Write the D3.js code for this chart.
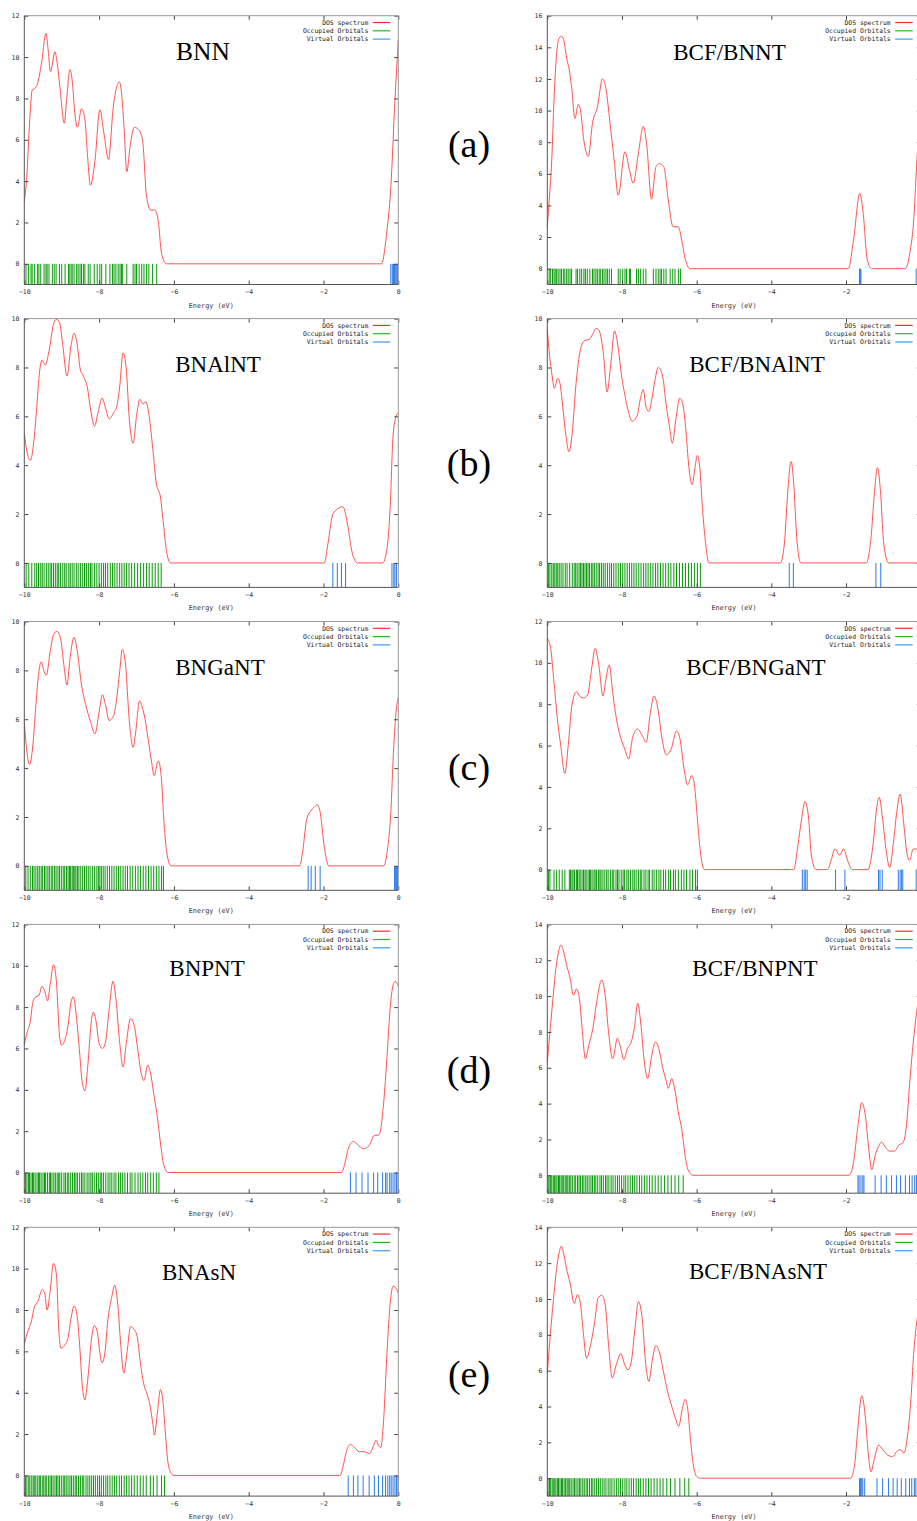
<!DOCTYPE html>
<html><head><meta charset="utf-8">
<script src="https://cdn.jsdelivr.net/npm/d3@7"></script>
<style>body{margin:0;background:#fff;} svg{display:block;background:#fff}</style>
</head><body>
<svg id="c" width="917" height="1521"></svg>
<script>
// ---------------- DATA ----------------
const xTicks = [-10, -8, -6, -4, -2, 0];
const rowLabels = ["(a)", "(b)", "(c)", "(d)", "(e)"];
const legendLabels = ["DOS spectrum", "Occupied Orbitals", "Virtual Orbitals"];
const xLabel = "Energy (eV)";

// (a) BNN
const dos_BNN = [[-10,3.0],[-9.94,4.06],[-9.85,7.1],[-9.79,8.4],[-9.71,8.5],[-9.65,8.7],[-9.54,9.7],[-9.42,11.15],[-9.36,10.3],[-9.30,9.3],[-9.18,10.25],[-9.12,9.7],[-9.05,8.6],[-8.93,6.8],[-8.87,7.9],[-8.78,9.4],[-8.71,8.7],[-8.65,7.3],[-8.58,6.6],[-8.47,7.5],[-8.38,7.0],[-8.32,5.5],[-8.23,3.8],[-8.11,5.0],[-7.98,7.45],[-7.87,6.3],[-7.75,5.05],[-7.62,7.6],[-7.46,8.8],[-7.40,8.25],[-7.33,6.5],[-7.26,4.45],[-7.17,5.7],[-7.06,6.6],[-6.95,6.5],[-6.84,6.0],[-6.73,3.25],[-6.62,2.6],[-6.51,2.6],[-6.42,2.1],[-6.33,0.5],[-6.2,0],[-0.45,0],[-0.31,1.5],[-0.2,3.7],[-0.09,7.9],[0,10.85]];
const occ_BNN = [-9.955,-9.89,-9.82,-9.79,-9.73,-9.65,-9.61,-9.56,-9.47,-9.42,-9.39,-9.34,-9.25,-9.20,-9.15,-9.06,-9.00,-8.91,-8.82,-8.80,-8.75,-8.72,-8.67,-8.60,-8.56,-8.51,-8.47,-8.42,-8.38,-8.29,-8.24,-8.13,-8.05,-7.98,-7.93,-7.82,-7.71,-7.64,-7.60,-7.55,-7.49,-7.44,-7.40,-7.37,-7.26,-7.09,-7.04,-7.00,-6.93,-6.86,-6.80,-6.73,-6.67,-6.57,-6.46];
const virt_BNN = [-0.2,-0.16,-0.13,-0.1,-0.07,-0.04,-0.02];

// (a) BCF/BNNT
const dos_BCF_BNNT = [[-10,2.65],[-9.95,4.3],[-9.88,6.9],[-9.82,10.7],[-9.75,13.6],[-9.68,14.6],[-9.62,14.7],[-9.55,14.35],[-9.48,13.3],[-9.41,12.55],[-9.35,11.5],[-9.26,9.5],[-9.17,10.4],[-9.11,10.0],[-9.02,8.1],[-8.90,7.1],[-8.79,9.2],[-8.66,10.2],[-8.52,12.0],[-8.43,11.4],[-8.32,9.2],[-8.21,6.9],[-8.10,4.65],[-7.92,7.4],[-7.80,6.25],[-7.70,5.4],[-7.56,7.3],[-7.43,9.0],[-7.34,7.9],[-7.21,4.4],[-7.09,6.45],[-7.0,6.65],[-6.88,6.45],[-6.76,4.35],[-6.63,2.65],[-6.49,2.65],[-6.40,1.8],[-6.31,0.65],[-6.18,0],[-1.94,0],[-1.80,1.8],[-1.63,4.76],[-1.54,3.5],[-1.43,0.55],[-1.31,0],[-0.42,0],[-0.29,1.0],[-0.18,3.3],[-0.1,6.9],[-0.05,8.5],[0,9.5]];
const occ_BCF_BNNT = [-9.95,-9.91,-9.86,-9.82,-9.79,-9.75,-9.71,-9.66,-9.62,-9.57,-9.53,-9.48,-9.44,-9.39,-9.35,-9.23,-9.19,-9.13,-9.08,-9.02,-8.98,-8.93,-8.86,-8.79,-8.75,-8.70,-8.66,-8.61,-8.57,-8.52,-8.48,-8.43,-8.39,-8.34,-8.28,-8.10,-8.05,-7.98,-7.92,-7.88,-7.80,-7.77,-7.61,-7.56,-7.50,-7.43,-7.36,-7.16,-7.09,-7.03,-6.98,-6.94,-6.88,-6.82,-6.71,-6.64,-6.58,-6.49,-6.43];
const virt_BCF_BNNT = [-1.64,-1.62,-1.60,-0.12,-0.08,-0.04];

// (b) BNAlNT
const dos_BNAlNT = [[-10,5.3],[-9.92,4.5],[-9.84,4.2],[-9.75,4.9],[-9.67,6.3],[-9.59,7.85],[-9.53,8.3],[-9.44,8.1],[-9.33,8.75],[-9.22,9.77],[-9.14,9.97],[-9.06,9.85],[-8.97,8.9],[-8.86,7.65],[-8.75,8.9],[-8.67,9.4],[-8.59,9.0],[-8.5,7.9],[-8.42,7.65],[-8.31,7.15],[-8.23,6.3],[-8.12,5.6],[-8.03,6.15],[-7.92,6.75],[-7.84,6.4],[-7.73,5.9],[-7.61,6.15],[-7.53,6.4],[-7.45,7.2],[-7.36,8.6],[-7.28,8.05],[-7.19,5.85],[-7.09,4.9],[-7.0,6.0],[-6.91,6.7],[-6.83,6.5],[-6.75,6.6],[-6.66,6.0],[-6.56,4.6],[-6.47,3.25],[-6.36,2.7],[-6.28,1.6],[-6.2,0.5],[-6.09,0],[-1.98,0],[-1.88,0.8],[-1.75,2.0],[-1.63,2.2],[-1.48,2.3],[-1.36,1.6],[-1.23,0.4],[-1.09,0],[-0.42,0],[-0.31,0.5],[-0.22,2.2],[-0.14,5.2],[-0.06,6.0],[0,6.15]];
const occ_BNAlNT = [-9.95,-9.88,-9.80,-9.72,-9.67,-9.62,-9.56,-9.52,-9.47,-9.41,-9.36,-9.31,-9.27,-9.22,-9.17,-9.12,-9.08,-9.03,-8.97,-8.92,-8.88,-8.81,-8.77,-8.72,-8.67,-8.61,-8.56,-8.50,-8.45,-8.39,-8.34,-8.28,-8.23,-8.19,-8.12,-8.06,-8.00,-7.94,-7.88,-7.83,-7.77,-7.70,-7.64,-7.58,-7.52,-7.45,-7.39,-7.33,-7.27,-7.20,-7.13,-7.05,-6.97,-6.89,-6.81,-6.73,-6.66,-6.58,-6.50,-6.42,-6.34];
const virt_BNAlNT = [-1.75,-1.63,-1.52,-1.41,-0.17,-0.12,-0.09,-0.05];

// (b) BCF/BNAlNT
const dos_BCF_BNAlNT = [[-10,9.56],[-9.94,8.5],[-9.87,7.65],[-9.81,7.15],[-9.72,7.55],[-9.66,7.35],[-9.58,6.3],[-9.5,5.2],[-9.42,4.55],[-9.34,5.2],[-9.23,7.35],[-9.11,8.75],[-9.0,9.1],[-8.87,9.15],[-8.79,9.35],[-8.69,9.6],[-8.61,9.5],[-8.5,8.6],[-8.4,7.0],[-8.29,8.3],[-8.2,9.5],[-8.12,9.0],[-8.01,7.65],[-7.9,6.7],[-7.82,6.15],[-7.73,5.8],[-7.59,6.05],[-7.51,6.7],[-7.43,7.1],[-7.36,6.4],[-7.28,6.2],[-7.2,6.7],[-7.12,7.45],[-7.03,8.0],[-6.92,7.7],[-6.81,6.4],[-6.73,5.6],[-6.65,4.9],[-6.56,5.85],[-6.45,6.75],[-6.37,6.5],[-6.29,5.45],[-6.21,3.95],[-6.12,3.2],[-6.04,3.95],[-5.98,4.4],[-5.92,3.95],[-5.84,2.15],[-5.76,0.8],[-5.67,0],[-3.76,0],[-3.65,0.8],[-3.57,2.7],[-3.47,4.15],[-3.4,3.25],[-3.32,1.05],[-3.21,0],[-1.46,0],[-1.33,1.05],[-1.24,2.85],[-1.16,3.9],[-1.08,3.0],[-0.99,0.8],[-0.86,0],[0,0]];
const occ_BCF_BNAlNT = [-9.97,-9.93,-9.88,-9.84,-9.80,-9.76,-9.72,-9.68,-9.63,-9.58,-9.52,-9.47,-9.40,-9.33,-9.28,-9.24,-9.20,-9.15,-9.11,-9.07,-9.03,-8.99,-8.95,-8.91,-8.87,-8.82,-8.78,-8.74,-8.69,-8.64,-8.60,-8.55,-8.50,-8.45,-8.39,-8.33,-8.28,-8.22,-8.16,-8.10,-8.04,-7.98,-7.92,-7.86,-7.80,-7.74,-7.68,-7.62,-7.55,-7.49,-7.42,-7.36,-7.30,-7.23,-7.17,-7.10,-7.04,-6.97,-6.90,-6.83,-6.76,-6.69,-6.61,-6.54,-6.46,-6.38,-6.30,-6.22,-6.14,-6.06,-5.98,-5.90];
const virt_BCF_BNAlNT = [-3.52,-3.41,-1.20,-1.07];

// (c) BNGaNT
const dos_BNGaNT = [[-10,5.9],[-9.94,4.8],[-9.86,4.15],[-9.77,4.95],[-9.69,6.6],[-9.61,7.95],[-9.55,8.35],[-9.47,7.95],[-9.41,7.8],[-9.31,8.75],[-9.22,9.45],[-9.13,9.6],[-9.03,9.3],[-8.94,8.2],[-8.86,7.4],[-8.77,8.6],[-8.67,9.35],[-8.58,8.75],[-8.47,7.4],[-8.36,6.6],[-8.23,5.9],[-8.11,5.4],[-8.0,6.3],[-7.91,7.0],[-7.83,6.6],[-7.73,5.95],[-7.61,6.15],[-7.53,6.85],[-7.45,7.95],[-7.38,8.85],[-7.3,8.35],[-7.19,5.9],[-7.09,4.85],[-7.02,5.5],[-6.92,6.75],[-6.84,6.45],[-6.77,6.0],[-6.69,5.2],[-6.61,4.4],[-6.53,3.7],[-6.42,4.3],[-6.34,3.7],[-6.27,1.9],[-6.19,0.55],[-6.08,0],[-2.64,0],[-2.56,0.55],[-2.45,1.9],[-2.34,2.25],[-2.25,2.4],[-2.17,2.5],[-2.09,2.2],[-1.98,0.8],[-1.86,0],[-0.39,0],[-0.3,0.55],[-0.2,2.2],[-0.13,4.65],[-0.05,6.45],[0,6.9]];
const occ_BNGaNT = [-9.96,-9.90,-9.84,-9.78,-9.74,-9.69,-9.64,-9.60,-9.55,-9.51,-9.46,-9.42,-9.37,-9.33,-9.28,-9.24,-9.19,-9.15,-9.10,-9.06,-9.01,-8.96,-8.92,-8.87,-8.83,-8.79,-8.76,-8.72,-8.69,-8.65,-8.62,-8.58,-8.54,-8.49,-8.44,-8.39,-8.34,-8.29,-8.24,-8.18,-8.12,-8.06,-8.02,-7.98,-7.94,-7.89,-7.84,-7.78,-7.72,-7.66,-7.60,-7.54,-7.48,-7.42,-7.36,-7.30,-7.24,-7.17,-7.10,-7.03,-6.96,-6.89,-6.82,-6.75,-6.68,-6.61,-6.54,-6.47,-6.40,-6.33,-6.28];
const virt_BNGaNT = [-2.41,-2.33,-2.22,-2.09,-0.1,-0.07,-0.05,-0.02];

// (c) BCF/BNGaNT
const dos_BCF_BNGaNT = [[-10,11.2],[-9.91,10.7],[-9.83,9.25],[-9.73,7.3],[-9.64,6.0],[-9.53,4.65],[-9.44,6.0],[-9.34,7.95],[-9.22,8.6],[-9.11,8.35],[-9.03,8.3],[-8.92,8.45],[-8.81,9.75],[-8.72,10.7],[-8.62,9.9],[-8.51,8.4],[-8.44,9.1],[-8.34,9.9],[-8.25,8.6],[-8.15,7.3],[-8.03,6.35],[-7.93,5.85],[-7.82,5.35],[-7.72,6.35],[-7.59,6.8],[-7.46,6.5],[-7.35,6.15],[-7.25,7.45],[-7.14,8.4],[-7.04,7.8],[-6.93,6.35],[-6.81,5.55],[-6.68,5.85],[-6.54,6.7],[-6.45,6.35],[-6.34,4.9],[-6.24,4.1],[-6.13,4.55],[-6.06,4.1],[-5.98,2.45],[-5.9,0.85],[-5.79,0],[-3.4,0],[-3.29,1.15],[-3.19,2.45],[-3.1,3.3],[-3.0,2.45],[-2.93,0.7],[-2.8,0],[-2.5,0],[-2.39,0.5],[-2.3,1.0],[-2.17,0.7],[-2.06,1.0],[-1.97,0.5],[-1.83,0],[-1.41,0],[-1.28,1.15],[-1.17,3.1],[-1.11,3.5],[-1.02,2.45],[-0.92,0.85],[-0.83,0.1],[-0.74,1.15],[-0.64,2.8],[-0.55,3.65],[-0.45,2.15],[-0.36,0.7],[-0.3,0.45],[-0.2,1.0],[-0.11,1.0],[-0.05,0.8],[0,0.6]];
const occ_BCF_BNGaNT = [-9.97,-9.93,-9.82,-9.75,-9.68,-9.60,-9.53,-9.41,-9.38,-9.34,-9.31,-9.27,-9.22,-9.19,-9.15,-9.12,-9.07,-9.03,-8.99,-8.96,-8.91,-8.87,-8.84,-8.80,-8.75,-8.72,-8.68,-8.63,-8.59,-8.56,-8.51,-8.46,-8.41,-8.37,-8.31,-8.26,-8.22,-8.16,-8.12,-8.08,-8.02,-7.97,-7.93,-7.87,-7.83,-7.77,-7.71,-7.67,-7.62,-7.56,-7.51,-7.47,-7.41,-7.36,-7.30,-7.26,-7.19,-7.14,-7.08,-7.01,-6.96,-6.89,-6.83,-6.75,-6.70,-6.62,-6.57,-6.49,-6.41,-6.34,-6.27,-6.18,-6.11,-6.03,-5.98];
const virt_BCF_BNGaNT = [-3.17,-3.12,-3.08,-3.04,-2.28,-2.03,-1.13,-1.09,-1.03,-0.60,-0.55,-0.51,-0.48,-0.12];

// (d) BNPNT
const dos_BNPNT = [[-10,6.2],[-9.92,6.8],[-9.84,7.3],[-9.77,8.25],[-9.69,8.5],[-9.61,8.55],[-9.53,9.0],[-9.45,8.75],[-9.38,8.3],[-9.3,9.2],[-9.22,10.05],[-9.14,9.2],[-9.06,6.65],[-9.0,6.15],[-8.91,6.45],[-8.83,7.1],[-8.75,8.25],[-8.69,8.5],[-8.61,7.6],[-8.53,6.0],[-8.45,4.35],[-8.38,3.95],[-8.3,5.2],[-8.22,7.1],[-8.16,7.75],[-8.08,7.3],[-8.0,6.25],[-7.91,6.0],[-7.83,6.3],[-7.73,7.9],[-7.63,9.25],[-7.55,8.4],[-7.45,6.3],[-7.36,5.1],[-7.27,6.3],[-7.16,7.45],[-7.06,7.1],[-6.97,6.0],[-6.88,4.85],[-6.8,4.45],[-6.7,5.2],[-6.63,4.85],[-6.53,3.7],[-6.44,2.65],[-6.34,1.15],[-6.27,0.35],[-6.16,0],[-1.52,0],[-1.42,0.5],[-1.34,1.15],[-1.2,1.5],[-1.08,1.35],[-0.94,1.15],[-0.78,1.3],[-0.64,1.8],[-0.53,1.8],[-0.47,2.1],[-0.39,3.4],[-0.3,5.65],[-0.22,7.9],[-0.14,9.05],[-0.08,9.25],[0,9.0]];
const occ_BNPNT = [-9.97,-9.93,-9.89,-9.86,-9.82,-9.78,-9.75,-9.71,-9.66,-9.62,-9.59,-9.55,-9.50,-9.46,-9.43,-9.38,-9.33,-9.30,-9.26,-9.21,-9.17,-9.12,-9.08,-9.05,-9.00,-8.94,-8.90,-8.85,-8.81,-8.76,-8.71,-8.66,-8.62,-8.58,-8.52,-8.47,-8.43,-8.38,-8.32,-8.27,-8.22,-8.18,-8.13,-8.07,-8.02,-7.97,-7.93,-7.88,-7.82,-7.76,-7.71,-7.66,-7.60,-7.55,-7.48,-7.43,-7.37,-7.31,-7.24,-7.17,-7.12,-7.04,-6.96,-6.90,-6.83,-6.76,-6.70,-6.62,-6.55,-6.47,-6.40];
const virt_BNPNT = [-1.28,-1.13,-0.97,-0.81,-0.66,-0.55,-0.42,-0.34,-0.30,-0.23,-0.19,-0.14,-0.09,-0.05,-0.01];

// (d) BCF/BNPNT
const dos_BCF_BNPNT = [[-10,6.3],[-9.92,8.2],[-9.84,10.05],[-9.77,11.55],[-9.7,12.45],[-9.64,12.85],[-9.56,12.45],[-9.48,11.7],[-9.39,11.0],[-9.3,10.05],[-9.22,10.4],[-9.14,9.85],[-9.06,8.0],[-8.98,6.5],[-8.89,7.25],[-8.78,8.2],[-8.69,9.5],[-8.54,10.9],[-8.45,10.05],[-8.36,8.0],[-8.25,6.5],[-8.12,7.65],[-8.03,7.05],[-7.95,6.45],[-7.86,7.05],[-7.75,7.45],[-7.67,8.2],[-7.58,9.6],[-7.5,8.55],[-7.4,6.3],[-7.31,5.4],[-7.22,6.5],[-7.1,7.45],[-7.01,7.05],[-6.92,6.1],[-6.82,5.3],[-6.76,4.85],[-6.67,5.4],[-6.57,4.6],[-6.49,3.5],[-6.4,2.6],[-6.31,1.1],[-6.23,0.3],[-6.1,0],[-1.92,0],[-1.8,0.7],[-1.69,2.6],[-1.58,4.05],[-1.48,3.3],[-1.39,1.45],[-1.31,0.3],[-1.22,1.1],[-1.12,1.65],[-1.05,1.85],[-0.94,1.55],[-0.83,1.35],[-0.7,1.35],[-0.58,1.7],[-0.48,1.8],[-0.39,2.6],[-0.28,5.55],[-0.2,7.4],[-0.11,9.1],[-0.05,10.0],[0,10.5]];
const occ_BCF_BNPNT = [-9.98,-9.95,-9.91,-9.88,-9.84,-9.81,-9.77,-9.74,-9.70,-9.67,-9.63,-9.60,-9.56,-9.52,-9.48,-9.45,-9.41,-9.37,-9.33,-9.28,-9.24,-9.19,-9.15,-9.11,-9.06,-9.02,-8.97,-8.93,-8.88,-8.83,-8.79,-8.74,-8.70,-8.65,-8.59,-8.55,-8.50,-8.44,-8.40,-8.35,-8.29,-8.24,-8.18,-8.12,-8.07,-8.01,-7.95,-7.90,-7.84,-7.78,-7.72,-7.66,-7.60,-7.53,-7.47,-7.40,-7.33,-7.26,-7.19,-7.11,-7.03,-6.95,-6.86,-6.77,-6.68,-6.58,-6.48,-6.36];
const virt_BCF_BNPNT = [-1.68,-1.65,-1.60,-1.55,-1.52,-1.22,-1.06,-0.92,-0.78,-0.65,-0.54,-0.41,-0.30,-0.23,-0.16,-0.11];

// (e) BNAsN
const dos_BNAsN = [[-10,6.35],[-9.91,6.95],[-9.81,7.45],[-9.73,8.15],[-9.64,8.4],[-9.56,8.85],[-9.52,9.0],[-9.45,8.75],[-9.39,8.0],[-9.31,8.9],[-9.22,10.25],[-9.14,9.7],[-9.08,7.1],[-9.02,6.15],[-8.92,6.3],[-8.83,6.65],[-8.75,7.6],[-8.67,8.2],[-8.59,7.75],[-8.52,6.3],[-8.45,4.35],[-8.38,3.65],[-8.3,4.7],[-8.2,6.65],[-8.13,7.25],[-8.05,6.95],[-7.97,5.8],[-7.92,5.45],[-7.84,6.0],[-7.77,7.45],[-7.67,8.55],[-7.58,9.2],[-7.5,8.25],[-7.42,6.3],[-7.34,4.95],[-7.25,6.0],[-7.16,7.2],[-7.06,7.05],[-6.98,6.7],[-6.91,5.65],[-6.81,4.45],[-6.72,3.95],[-6.64,3.4],[-6.56,2.45],[-6.52,1.95],[-6.44,3.05],[-6.36,4.15],[-6.3,3.7],[-6.23,2.1],[-6.17,0.8],[-6.09,0.15],[-6.0,0],[-1.56,0],[-1.47,0.5],[-1.39,1.15],[-1.28,1.5],[-1.17,1.35],[-1.05,1.15],[-0.91,1.15],[-0.77,1.05],[-0.66,1.45],[-0.6,1.7],[-0.53,1.45],[-0.47,1.35],[-0.39,2.75],[-0.31,5.65],[-0.22,8.25],[-0.14,9.15],[-0.06,9.05],[0,8.8]];
const occ_BNAsN = [-9.97,-9.93,-9.88,-9.85,-9.80,-9.76,-9.72,-9.69,-9.64,-9.60,-9.57,-9.52,-9.48,-9.44,-9.40,-9.35,-9.31,-9.27,-9.23,-9.18,-9.14,-9.10,-9.06,-9.01,-8.96,-8.92,-8.88,-8.83,-8.78,-8.74,-8.69,-8.64,-8.60,-8.55,-8.50,-8.45,-8.41,-8.35,-8.30,-8.25,-8.20,-8.15,-8.10,-8.04,-7.99,-7.94,-7.88,-7.82,-7.77,-7.71,-7.65,-7.59,-7.53,-7.46,-7.40,-7.33,-7.27,-7.20,-7.13,-7.06,-6.98,-6.90,-6.82,-6.74,-6.63,-6.55,-6.45,-6.33,-6.25];
const virt_BNAsN = [-1.34,-1.20,-1.08,-0.94,-0.78,-0.64,-0.53,-0.42,-0.34,-0.28,-0.23,-0.19,-0.14,-0.09,-0.05,-0.01];

// (e) BCF/BNAsNT
const dos_BCF_BNAsNT = [[-10,5.85],[-9.92,8.0],[-9.84,9.85],[-9.77,11.35],[-9.7,12.4],[-9.62,12.95],[-9.55,12.4],[-9.47,11.55],[-9.39,10.9],[-9.28,9.75],[-9.19,10.25],[-9.11,9.7],[-9.03,8.0],[-8.95,6.7],[-8.84,7.45],[-8.73,8.75],[-8.64,10.05],[-8.54,10.2],[-8.45,9.7],[-8.36,7.45],[-8.26,5.6],[-8.15,6.35],[-8.03,6.95],[-7.93,6.35],[-7.84,6.05],[-7.75,6.5],[-7.65,8.4],[-7.56,9.85],[-7.46,8.95],[-7.37,6.5],[-7.28,5.4],[-7.18,6.7],[-7.09,7.4],[-7.0,7.05],[-6.89,5.95],[-6.78,4.85],[-6.68,4.1],[-6.57,3.35],[-6.48,2.9],[-6.38,3.9],[-6.31,4.4],[-6.23,3.7],[-6.17,2.25],[-6.09,0.75],[-6.0,0.1],[-5.9,0],[-1.88,0],[-1.77,0.75],[-1.69,2.6],[-1.58,4.6],[-1.48,3.35],[-1.41,1.5],[-1.33,0.35],[-1.24,1.1],[-1.13,1.85],[-1.02,1.6],[-0.89,1.3],[-0.75,1.2],[-0.64,1.5],[-0.55,1.6],[-0.45,1.4],[-0.36,2.25],[-0.26,4.45],[-0.19,6.9],[-0.11,8.65],[-0.05,9.5],[0,10.0]];
const occ_BCF_BNAsNT = [-9.98,-9.94,-9.91,-9.87,-9.84,-9.80,-9.77,-9.73,-9.70,-9.66,-9.62,-9.59,-9.55,-9.51,-9.47,-9.44,-9.40,-9.36,-9.31,-9.27,-9.23,-9.18,-9.14,-9.10,-9.05,-9.01,-8.96,-8.92,-8.87,-8.82,-8.78,-8.73,-8.68,-8.63,-8.58,-8.53,-8.48,-8.43,-8.37,-8.32,-8.27,-8.21,-8.15,-8.10,-8.04,-7.98,-7.92,-7.87,-7.81,-7.75,-7.69,-7.62,-7.56,-7.50,-7.43,-7.36,-7.29,-7.22,-7.14,-7.06,-6.98,-6.90,-6.80,-6.70,-6.58,-6.45,-6.32,-6.21];
const virt_BCF_BNAsNT = [-1.64,-1.61,-1.58,-1.55,-1.50,-1.17,-1.02,-0.86,-0.74,-0.63,-0.52,-0.40,-0.30,-0.24,-0.17,-0.13];

const titles = ["BNN","BCF/BNNT","BNAlNT","BCF/BNAlNT","BNGaNT","BCF/BNGaNT","BNPNT","BCF/BNPNT","BNAsN","BCF/BNAsNT"];
const yMaxes = [12,16,10,10,10,12,12,14,12,14];
const dosSets = [dos_BNN,dos_BCF_BNNT,dos_BNAlNT,dos_BCF_BNAlNT,dos_BNGaNT,dos_BCF_BNGaNT,dos_BNPNT,dos_BCF_BNPNT,dos_BNAsN,dos_BCF_BNAsNT];
const occSets = [occ_BNN,occ_BCF_BNNT,occ_BNAlNT,occ_BCF_BNAlNT,occ_BNGaNT,occ_BCF_BNGaNT,occ_BNPNT,occ_BCF_BNPNT,occ_BNAsN,occ_BCF_BNAsNT];
const virtSets = [virt_BNN,virt_BCF_BNNT,virt_BNAlNT,virt_BCF_BNAlNT,virt_BNGaNT,virt_BCF_BNGaNT,virt_BNPNT,virt_BCF_BNPNT,virt_BNAsN,virt_BCF_BNAsNT];

// ---------------- LAYOUT ----------------
const W = 917;
const SIDE = [{x0:24.3, x1:398.3}, {x0:547.3, x1:920.7}];
const TOP0 = 15.7, ROWH = 302.9, PH = 268.8;
const titleLayout = [
  {cx:203, dy:44, fs:25.5}, {cx:729.5, dy:44, fs:23},
  {cx:218, dy:53, fs:23}, {cx:757, dy:53, fs:23},
  {cx:220, dy:53, fs:23}, {cx:756, dy:53, fs:23},
  {cx:207, dy:52, fs:23}, {cx:755, dy:52, fs:23},
  {cx:199, dy:52.5, fs:23}, {cx:758, dy:52, fs:23}
];
const rowLabelY = [157, 476, 780, 1083, 1387];
const tickFont = "'DejaVu Sans Mono', monospace";
const serif = "'Liberation Serif','Times New Roman',serif";

const svg = d3.select("#c");

titles.forEach((t, i) => {
  const row = Math.floor(i / 2), side = i % 2;
  const top = TOP0 + row * ROWH, bot = top + PH;
  const x = d3.scaleLinear().domain([-10, 0]).range([SIDE[side].x0, SIDE[side].x1]);
  const y = d3.scaleLinear().domain([-1, yMaxes[i]]).range([bot, top]);
  const yTicks = d3.range(0, yMaxes[i] + 0.001, 2);
  const g = svg.append("g");

  // occupied orbitals
  g.append("g").selectAll("line").data(occSets[i]).join("line")
    .attr("x1", d => x(d)).attr("x2", d => x(d))
    .attr("y1", y(0)).attr("y2", y(-1))
    .attr("stroke", "#0a9a0a").attr("stroke-width", 1);
  // virtual orbitals
  g.append("g").selectAll("line").data(virtSets[i]).join("line")
    .attr("x1", d => x(d)).attr("x2", d => x(d))
    .attr("y1", y(0)).attr("y2", y(-1))
    .attr("stroke", "#2a7ae8").attr("stroke-width", 1);
  // DOS curve
  g.append("path").datum(dosSets[i])
    .attr("d", d3.line().x(d => x(d[0])).y(d => y(d[1])).curve(d3.curveMonotoneX))
    .attr("fill", "none").attr("stroke", "#ff4040").attr("stroke-width", 0.9);

  // axes (inward ticks, gnuplot style)
  const styleAxis = sel => {
    sel.select(".domain").remove();
    sel.selectAll(".tick line").attr("stroke", "#444");
    sel.selectAll(".tick text").attr("font-family", tickFont).attr("font-size", 6.5).attr("fill", "#333");
  };
  const xAxisG = g.append("g").attr("transform", `translate(0,${bot})`)
    .call(d3.axisBottom(x).tickValues(xTicks).tickSize(-4).tickPadding(5).tickFormat(d3.format("d")))
    .call(styleAxis);
  // the reference picture is cropped at its right edge: drop labels that fall outside it
  xAxisG.selectAll(".tick").filter(d => x(d) > W - 4).select("text").remove();
  g.append("g").attr("transform", `translate(0,${top})`)
    .call(d3.axisTop(x).tickValues(xTicks).tickSize(-4).tickFormat(""))
    .call(styleAxis);
  g.append("g").attr("transform", `translate(${SIDE[side].x0},0)`)
    .call(d3.axisLeft(y).tickValues(yTicks).tickSize(-4).tickPadding(5).tickFormat(d3.format("d")))
    .call(styleAxis);
  g.append("g").attr("transform", `translate(${SIDE[side].x1},0)`)
    .call(d3.axisRight(y).tickValues(yTicks).tickSize(-4).tickFormat(""))
    .call(styleAxis);

  // frame
  const x0 = SIDE[side].x0, x1 = SIDE[side].x1;
  g.append("line").attr("x1", x0).attr("x2", x1).attr("y1", top).attr("y2", top).attr("stroke", "#999");
  g.append("line").attr("x1", x1).attr("x2", x1).attr("y1", top).attr("y2", bot).attr("stroke", "#999");
  g.append("line").attr("x1", x0).attr("x2", x0).attr("y1", top).attr("y2", bot).attr("stroke", "#555");
  g.append("line").attr("x1", x0).attr("x2", x1).attr("y1", bot).attr("y2", bot).attr("stroke", "#555");

  // x label
  g.append("text").attr("x", (x0 + x1) / 2).attr("y", bot + 23)
    .attr("text-anchor", "middle").attr("font-family", tickFont).attr("font-size", 6.8).attr("fill", "#333")
    .text(xLabel);

  // legend
  const legColors = ["#ff2a2a", "#22bb22", "#3a9af5"];
  const legDy = [6.8, 15.1, 23.4];
  legendLabels.forEach((lab, k) => {
    g.append("text").attr("x", x1 - 30).attr("y", top + legDy[k]).attr("dy", "0.35em")
      .attr("text-anchor", "end").attr("font-family", tickFont).attr("font-size", 6.4).attr("fill", "#222")
      .text(lab);
    g.append("line").attr("x1", x1 - 25.5).attr("x2", x1 - 8)
      .attr("y1", top + legDy[k]).attr("y2", top + legDy[k])
      .attr("stroke", legColors[k]).attr("stroke-width", 1.2);
  });

  // title
  const tl = titleLayout[i];
  g.append("text").attr("x", tl.cx).attr("y", top + tl.dy).attr("text-anchor", "middle")
    .attr("font-family", serif).attr("font-size", tl.fs).attr("fill", "#000").text(t);
});

rowLabels.forEach((lab, r) => {
  svg.append("text").attr("x", 469).attr("y", rowLabelY[r]).attr("text-anchor", "middle")
    .attr("font-family", serif).attr("font-size", 38).attr("fill", "#000").text(lab);
});
</script>
</body></html>
